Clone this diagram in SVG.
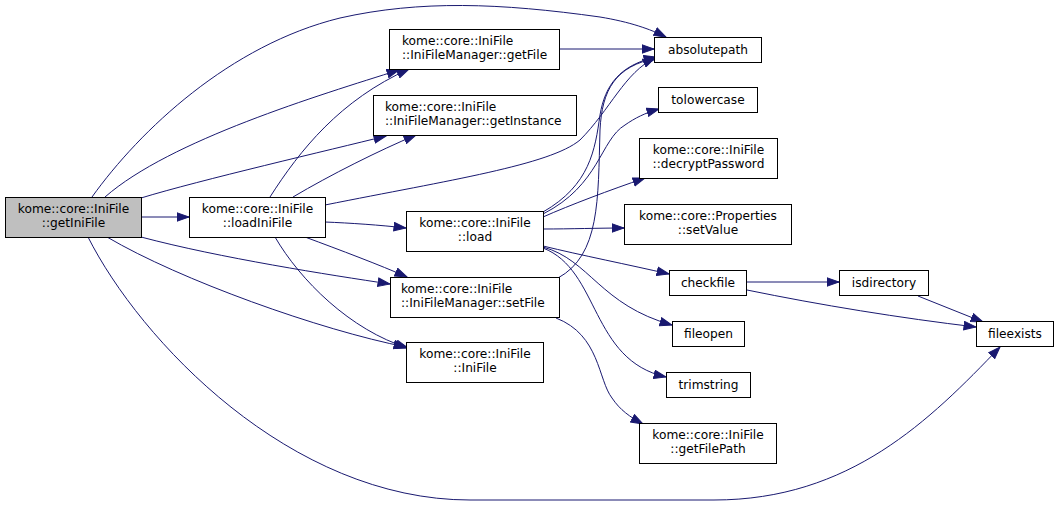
<svg xmlns="http://www.w3.org/2000/svg" width="1059" height="507" viewBox="0 0 1059 507">
<defs>
<style>
.n rect{fill:#fff;stroke:#000;stroke-width:1}
.n text{font-family:"DejaVu Sans","Liberation Sans",sans-serif;font-size:12.2px;fill:#000}
.c{text-anchor:middle}
#edges path{fill:none;stroke:#191970;stroke-width:1}
</style>
<marker id="ah" markerUnits="userSpaceOnUse" markerWidth="13" markerHeight="10" refX="12.5" refY="5" orient="auto">
<path d="M0.5,0.8 L12.5,5 L0.5,9.2 z" fill="#191970" stroke="#191970" stroke-width="1"/>
</marker>
</defs>
<rect width="1059" height="507" fill="#fff"/>
<g id="edges">
<path d="M92,197 C140,130 230,45 340,18 C420,0 500,3 600,17 C630,22 650,29 666,37" marker-end="url(#ah)"/>
<path d="M105,197 C170,140 320,95 399,70" marker-end="url(#ah)"/>
<path d="M141,198 C200,180 330,150 386,136" marker-end="url(#ah)"/>
<path d="M141,217 L189,217" marker-end="url(#ah)"/>
<path d="M141,237 C220,258 330,275 390,284" marker-end="url(#ah)"/>
<path d="M107,237 C180,280 320,330 406,347" marker-end="url(#ah)"/>
<path d="M88,237 C140,340 290,500 470,500 L714,500 C850,500 930,420 1000,347" marker-end="url(#ah)"/>
<path d="M270,197 C300,150 340,100 409,69" marker-end="url(#ah)"/>
<path d="M293,197 C330,175 380,150 416,135" marker-end="url(#ah)"/>
<path d="M325,205 C450,180 550,165 580,140 C610,110 625,72 655,58" marker-end="url(#ah)"/>
<path d="M325,222 C350,223 380,225 406,228" marker-end="url(#ah)"/>
<path d="M305,237 C340,250 380,265 407,277" marker-end="url(#ah)"/>
<path d="M275,237 C300,280 350,330 408,348" marker-end="url(#ah)"/>
<path d="M559,49 L654,49" marker-end="url(#ah)"/>
<path d="M543,212 C590,185 595,150 600,115 C605,85 620,65 656,57" marker-end="url(#ah)"/>
<path d="M543,214 C600,185 600,140 625,125 C635,118 645,113 659,109" marker-end="url(#ah)"/>
<path d="M543,217 C570,205 610,190 645,178" marker-end="url(#ah)"/>
<path d="M543,229 C570,229 600,228 624,228" marker-end="url(#ah)"/>
<path d="M543,246 C580,255 630,265 669,274" marker-end="url(#ah)"/>
<path d="M543,247 C590,260 600,305 672,325" marker-end="url(#ah)"/>
<path d="M543,248 C600,270 590,360 666,377" marker-end="url(#ah)"/>
<path d="M558,278 C600,255 598,200 600,130 C602,90 615,66 657,58" marker-end="url(#ah)"/>
<path d="M556,318 C600,335 598,380 612,398 C620,410 630,417 643,424" marker-end="url(#ah)"/>
<path d="M746,282 L839,282" marker-end="url(#ah)"/>
<path d="M747,290 C820,305 900,318 976,327" marker-end="url(#ah)"/>
<path d="M918,296 L983,322" marker-end="url(#ah)"/>
</g>
<g id="getIniFile" class="n"><rect x="5.5" y="197.5" width="136" height="40" style="fill:#bfbfbf"/><text class="c" x="73.5" y="213">kome::core::IniFile</text><text class="c" x="73.5" y="227">::getIniFile</text></g>
<g id="loadIniFile" class="n"><rect x="189.5" y="197.5" width="136" height="40"/><text class="c" x="257.5" y="213">kome::core::IniFile</text><text class="c" x="257.5" y="227">::loadIniFile</text></g>
<g id="getFile" class="n"><rect x="389.5" y="29.5" width="170" height="40"/><text x="402" y="45">kome::core::IniFile</text><text x="402" y="59">::IniFileManager::getFile</text></g>
<g id="getInstance" class="n"><rect x="373.5" y="95.5" width="203" height="40"/><text x="385" y="111">kome::core::IniFile</text><text x="385" y="125">::IniFileManager::getInstance</text></g>
<g id="load" class="n"><rect x="406.5" y="211.5" width="137" height="40"/><text class="c" x="475" y="227">kome::core::IniFile</text><text class="c" x="475" y="241">::load</text></g>
<g id="setFile" class="n"><rect x="390.5" y="277.5" width="169" height="40"/><text x="401" y="293">kome::core::IniFile</text><text x="401" y="307">::IniFileManager::setFile</text></g>
<g id="IniFile" class="n"><rect x="406.5" y="342.5" width="137" height="40"/><text class="c" x="475" y="358">kome::core::IniFile</text><text class="c" x="475" y="372">::IniFile</text></g>
<g id="absolutepath" class="n"><rect x="654.5" y="37.5" width="107" height="25"/><text class="c" x="708" y="54">absolutepath</text></g>
<g id="tolowercase" class="n"><rect x="658.5" y="87.5" width="99" height="25"/><text class="c" x="708" y="104">tolowercase</text></g>
<g id="decryptPassword" class="n"><rect x="639.5" y="138.5" width="138" height="40"/><text class="c" x="708.5" y="154">kome::core::IniFile</text><text class="c" x="708.5" y="168">::decryptPassword</text></g>
<g id="setValue" class="n"><rect x="624.5" y="204.5" width="167" height="40"/><text class="c" x="708" y="220">kome::core::Properties</text><text class="c" x="708" y="234">::setValue</text></g>
<g id="checkfile" class="n"><rect x="669.5" y="270.5" width="77" height="25"/><text class="c" x="708" y="287">checkfile</text></g>
<g id="isdirectory" class="n"><rect x="839.5" y="270.5" width="89" height="25"/><text class="c" x="884" y="287">isdirectory</text></g>
<g id="fileexists" class="n"><rect x="976.5" y="321.5" width="77" height="25"/><text class="c" x="1015" y="338">fileexists</text></g>
<g id="fileopen" class="n"><rect x="672.5" y="321.5" width="72" height="25"/><text class="c" x="708.5" y="338">fileopen</text></g>
<g id="trimstring" class="n"><rect x="666.5" y="372.5" width="84" height="25"/><text class="c" x="708.5" y="389">trimstring</text></g>
<g id="getFilePath" class="n"><rect x="639.5" y="423.5" width="137" height="40"/><text class="c" x="708" y="439">kome::core::IniFile</text><text class="c" x="708" y="453">::getFilePath</text></g>
</svg>
